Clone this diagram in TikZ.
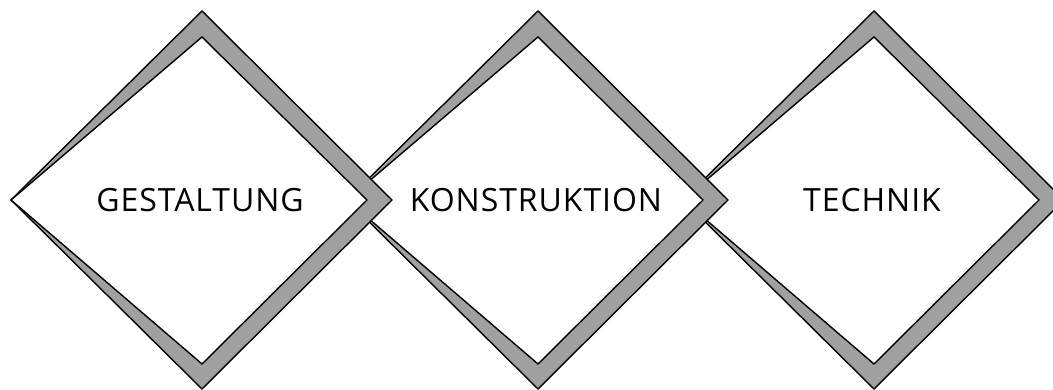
\documentclass[tikz,border=0pt]{standalone}
\usepackage{fontspec}
\setmainfont{Open Sans}
\newfontfamily\diamondfont[LetterSpace=3]{Open Sans}
\usepackage{tikz}
\definecolor{ShadowGray}{RGB}{160, 160, 160}

\tikzset{
  diamondtext/.style={font=\diamondfont\fontsize{32}{38}\selectfont, inner sep=0pt, text=black}
}

\begin{document}
\begin{tikzpicture}[x=1pt, y=-1pt, line width=1.4pt, line join=miter]
    \useasboundingbox (0,0) rectangle (1053,390);

    % Diamonds, right one first so the left tip lies on top
    \foreach \cx/\name/\txt in {874/technik/TECHNIK, 538/konstruktion/KONSTRUKTION, 202/gestaltung/GESTALTUNG} {
      % Gray back diamond
      \filldraw[fill=ShadowGray] (\cx-191,200) -- (\cx,11) -- (\cx+190,200) -- (\cx,389) -- cycle;
      % White front face
      \filldraw[fill=white] (\cx-191,200) -- (\cx,37) -- (\cx+165,200) -- (\cx,364) -- cycle;
      \node[diamondtext] (\name) at (\cx-2,200) {\txt};
    }
  \end{tikzpicture}
\end{document}
